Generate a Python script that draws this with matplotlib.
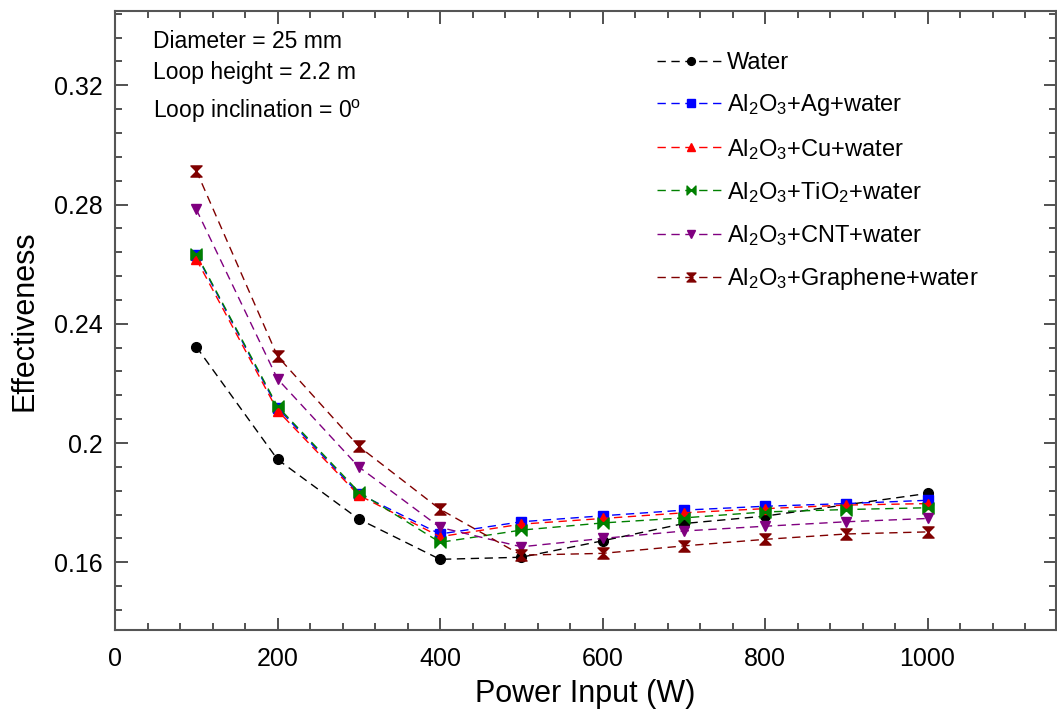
import matplotlib
matplotlib.use("Agg")
import matplotlib.pyplot as plt
from matplotlib.path import Path
from matplotlib.ticker import MultipleLocator, FixedLocator

plt.rcParams['font.family'] = ['Liberation Sans', 'DejaVu Sans']
plt.rcParams['mathtext.fontset'] = 'custom'
plt.rcParams['mathtext.rm'] = 'Liberation Sans'
plt.rcParams['mathtext.it'] = 'Liberation Sans:italic'
plt.rcParams['mathtext.default'] = 'regular'

power = [100, 200, 300, 400, 500, 600, 700, 800, 900, 1000]
water = [0.2323, 0.1945, 0.1745, 0.1610, 0.1617, 0.1672, 0.1730, 0.1755, 0.1793, 0.1831]
ag = [0.2632, 0.2118, 0.1830, 0.1695, 0.1736, 0.1756, 0.1775, 0.1788, 0.1797, 0.1808]
cu = [0.2617, 0.2109, 0.1825, 0.1686, 0.1728, 0.1747, 0.1766, 0.1780, 0.1792, 0.1797]
tio2 = [0.2635, 0.2123, 0.1836, 0.1667, 0.1708, 0.1732, 0.1749, 0.1769, 0.1777, 0.1783]
cnt = [0.2784, 0.2215, 0.1920, 0.1717, 0.1652, 0.1680, 0.1705, 0.1721, 0.1736, 0.1747]
graphene = [0.2914, 0.2291, 0.1989, 0.1778, 0.1624, 0.1630, 0.1655, 0.1677, 0.1695, 0.1702]

labels = ['Water', 'Al$_2$O$_3$+Ag+water', 'Al$_2$O$_3$+Cu+water',
          'Al$_2$O$_3$+TiO$_2$+water', 'Al$_2$O$_3$+CNT+water',
          'Al$_2$O$_3$+Graphene+water']
colors = ['#000000', '#0000FF', '#FF0000', '#008000', '#800080', '#800000']

yticks = [0.16, 0.20, 0.24, 0.28, 0.32]
ytick_labels = ['0.16', '0.2', '0.24', '0.28', '0.32']
xticks = [0, 200, 400, 600, 800, 1000]

hourglass = Path([(-1, 1), (1, 1), (-1, -1), (1, -1), (-1, 1)],
                 [Path.MOVETO, Path.LINETO, Path.LINETO, Path.LINETO, Path.CLOSEPOLY])
bowtie = Path([(-1, 1), (-1, -1), (1, 1), (1, -1), (-1, 1)],
              [Path.MOVETO, Path.LINETO, Path.LINETO, Path.LINETO, Path.CLOSEPOLY])
markers = ['o', 's', '^', bowtie, 'v', hourglass]
msizes = [7, 7, 7.5, 8, 7.5, 8]

fig = plt.figure(figsize=(10.57, 7.15), dpi=100)
ax = fig.add_axes([0.1088, 0.1189, 0.8902, 0.8661])

series = [water, ag, cu, tio2, cnt, graphene]
for s, lab, c, m, ms in zip(series, labels, colors, markers, msizes):
    ax.plot(power, s, linestyle=(0, (6, 4)), linewidth=1.0, color=c,
            marker=m, markersize=ms, markerfacecolor=c, markeredgecolor=c,
            label=lab)

ax.set_xlim(0, 1158)
ax.set_ylim(0.1373, 0.345)
ax.xaxis.set_major_locator(FixedLocator(xticks))
ax.xaxis.set_minor_locator(MultipleLocator(40))
ax.yaxis.set_major_locator(FixedLocator(yticks))
ax.set_yticklabels(ytick_labels)
ax.yaxis.set_minor_locator(MultipleLocator(0.008))

ax.tick_params(which='both', direction='in', top=True, right=True,
               color='#333333', width=1.2)
ax.tick_params(which='major', length=9, labelsize=18, pad=9)
ax.tick_params(which='minor', length=5)
ax.tick_params(axis='x', which='major', pad=12)
for sp in ax.spines.values():
    sp.set_color('#555555')
    sp.set_linewidth(1.5)

ax.set_xlabel('Power Input (W)', fontsize=22, labelpad=6)
ax.set_ylabel('Effectiveness', fontsize=22, labelpad=10)

ax.text(0.0404, 0.951, 'Diameter = 25 mm', transform=ax.transAxes,
        fontsize=16.5, va='center', ha='left')
ax.text(0.0404, 0.901, 'Loop height = 2.2 m', transform=ax.transAxes,
        fontsize=16.5, va='center', ha='left')
ax.text(0.0404, 0.838, 'Loop inclination = 0$^{o}$', transform=ax.transAxes,
        fontsize=16.5, va='center', ha='left')

leg = ax.legend(loc='upper left', bbox_to_anchor=(0.564, 0.952), frameon=False,
                fontsize=17, handlelength=2.8, handletextpad=0.15,
                labelspacing=0.77, borderpad=0, markerscale=0.8)

fig.savefig('out.png', dpi=100)
